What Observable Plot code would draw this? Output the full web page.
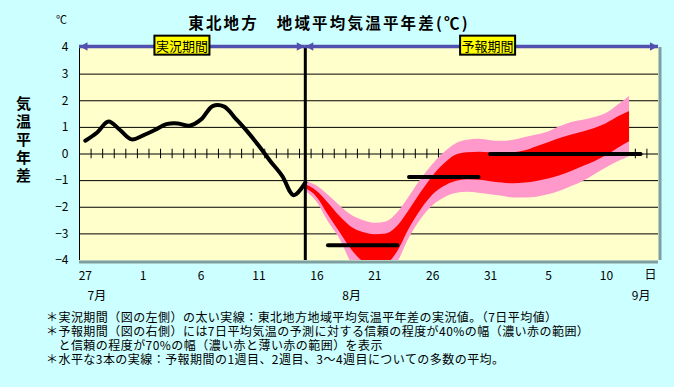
<!DOCTYPE html>
<html>
<head>
<meta charset="utf-8">
<script src="https://cdn.jsdelivr.net/npm/d3@7"></script>
<script src="https://cdn.jsdelivr.net/npm/@observablehq/plot@0.6"></script>
<style>
html, body { margin: 0; padding: 0; background: #CCFFFF; }
#wrap { position: relative; width: 674px; height: 387px; overflow: hidden; font-family: "Noto Sans CJK JP", "Noto Sans", sans-serif; color: #000; }
#chart { position: absolute; left: 0; top: 0; }
#title { position: absolute; left: 0; width: 658px; top: 12px; text-align: center; font-weight: bold; font-size: 15.5px; line-height: 20px; letter-spacing: 2.2px; white-space: nowrap; }
#unit { position: absolute; left: 56px; top: 11px; font-size: 11px; line-height: 16px; }
#ylabel { position: absolute; left: 14px; top: 96px; writing-mode: vertical-rl; text-orientation: upright; font-weight: bold; font-size: 15px; line-height: 18px; letter-spacing: 3px; white-space: nowrap; }
#caption { position: absolute; left: 46px; top: 310px; font-size: 12px; line-height: 14px; letter-spacing: 0.45px; white-space: pre; }
</style>
</head>
<body>
<div id="wrap">
  <div id="chart"></div>
  <div id="unit"></div>
  <div id="title"></div>
  <div id="ylabel"></div>
  <div id="caption"></div>
</div>
<script>
// ---------- data ----------
const titleText = "東北地方　地域平均気温平年差(℃)";
const unitText = "℃";
const yLabelText = "気温平年差";
const captionLines = [
  "＊実況期間（図の左側）の太い実線：東北地方地域平均気温平年差の実況値。（7日平均値）",
  "＊予報期間（図の右側）には7日平均気温の予測に対する信頼の程度が40%の幅（濃い赤の範囲）",
  "　と信頼の程度が70%の幅（濃い赤と薄い赤の範囲）を表示",
  "＊水平な3本の実線：予報期間の1週目、2週目、3～4週目についての多数の平均。"
];

// categories: one per day, 7/27 .. 9/14
const monthSpans = [[7, 27, 31], [8, 1, 31], [9, 1, 14]];
const categories = monthSpans.flatMap(([m, a, b]) => d3.range(a, b + 1).map(d => `${m}/${d}`));

const dayTickCats = ["7/27", "8/1", "8/6", "8/11", "8/16", "8/21", "8/26", "8/31", "9/5", "9/10"];
const dayTickLabels = ["27", "1", "6", "11", "16", "21", "26", "31", "5", "10"];
const dayUnitLabel = "日";
const monthLabelCats = ["7/28", "8/19", "9/13"];
const monthLabels = ["7月", "8月", "9月"];

const yTicks = [-4, -3, -2, -1, 0, 1, 2, 3, 4];
const gridValues = [-3, -2, -1, 0, 1, 2, 3];

// observed 7-day mean anomaly, 7/27 .. 8/15
const observedCats = categories.slice(0, 20);
const observed = [0.5, 0.8, 1.22, 0.9, 0.55, 0.7, 0.9, 1.12, 1.15, 1.06,
                  1.3, 1.8, 1.78, 1.32, 0.84, 0.3, -0.28, -0.82, -1.55, -1.07];

// forecast ranges, 8/15 .. 9/12
const forecastCats = categories.slice(19, 48);
const pinkTop = [-1.03, -1.2, -1.55, -1.95, -2.3, -2.5, -2.6, -2.55, -2.2, -1.6,
                 -0.95, -0.4, 0.05, 0.38, 0.52, 0.55, 0.5, 0.48, 0.52, 0.62,
                 0.71, 0.83, 1.02, 1.18, 1.27, 1.37, 1.52, 1.83, 2.16];
const redTop = [-1.15, -1.4, -1.85, -2.35, -2.75, -2.95, -3.03, -3.0, -2.7, -2.1,
                -1.45, -0.85, -0.38, -0.05, 0.05, 0.07, 0.05, 0.02, 0.05, 0.12,
                0.27, 0.42, 0.58, 0.71, 0.83, 0.96, 1.14, 1.39, 1.6];
const redBottom = [-1.3, -1.62, -2.3, -2.95, -3.6, -4.05, -4.25, -4.15, -3.65, -2.8,
                   -2.1, -1.55, -1.22, -1.03, -0.97, -0.99, -1.04, -1.09, -1.12, -1.09,
                   -1.03, -0.94, -0.82, -0.66, -0.47, -0.29, -0.07, 0.21, 0.46];
const pinkBottom = [-1.4, -1.8, -2.55, -3.2, -4.1, -4.5, -4.6, -4.5, -4.05, -3.15,
                    -2.45, -1.95, -1.65, -1.48, -1.44, -1.47, -1.53, -1.59, -1.65, -1.65,
                    -1.62, -1.53, -1.4, -1.22, -1.03, -0.78, -0.53, -0.29, -0.1];

// weekly means (1st week, 2nd week, weeks 3-4)
const weekStartCats = ["8/17", "8/24", "8/31"];
const weekEndCats = ["8/23", "8/30", "9/13"];
const weekMeans = [-3.43, -0.86, 0.0];

const periodNames = ["実況期間", "予報期間"];
const periodLabelCats = ["8/4", "8/31"];

// ---------- build ----------
const xi = c => categories.indexOf(c) + 0.5;
const xMax = categories.length;
const yMin = yTicks[0], yMax = yTicks[yTicks.length - 1];
const splitX = xi(observedCats[observedCats.length - 1]);

const obsData = observedCats.map((c, i) => ({x: xi(c), y: observed[i]}));
const fcData = forecastCats.map((c, i) => ({x: xi(c), pt: pinkTop[i], rt: redTop[i], rb: redBottom[i], pb: pinkBottom[i]}));
const weekData = weekMeans.map((v, i) => ({x1: xi(weekStartCats[i]), x2: xi(weekEndCats[i]), y: v}));
const arrowShafts = [{x1: 0, x2: splitX, y: yMax}, {x1: splitX, x2: xMax, y: yMax}];
const headsLeft = [{x: 0, y: yMax}, {x: splitX, y: yMax}];
const headsRight = [{x: splitX, y: yMax}, {x: xMax, y: yMax}];
const periodData = periodNames.map((n, i) => ({x: xi(periodLabelCats[i]), y: yMax, text: n}));
const dayTicks = dayTickCats.map((c, i) => ({x: xi(c), text: dayTickLabels[i]}));
const monthData = monthLabelCats.map((c, i) => ({x: xi(c), text: monthLabels[i]}));
const boundaries = d3.range(1, xMax);

const blue = "#5050B0";
const triRight = {draw(ctx) { ctx.moveTo(0, 0); ctx.lineTo(-7.5, -4.3); ctx.lineTo(-7.5, 4.3); ctx.closePath(); }};
const triLeft = {draw(ctx) { ctx.moveTo(0, 0); ctx.lineTo(7.5, -4.3); ctx.lineTo(7.5, 4.3); ctx.closePath(); }};

const chart = Plot.plot({
  width: 674,
  height: 387,
  marginLeft: 79,
  marginRight: 16,
  marginTop: 47,
  marginBottom: 127,
  style: {background: "transparent", fontFamily: "'Noto Sans CJK JP', 'Noto Sans', sans-serif", fontSize: "12px", color: "#000"},
  x: {domain: [0, xMax], axis: null},
  y: {domain: [yMin, yMax], ticks: yTicks, tickSize: 0, tickPadding: 11, label: null},
  marks: [
    Plot.frame({fill: "#FFFFCC", stroke: "none"}),
    Plot.ruleY([yMin], {stroke: "#7F9F9F", strokeWidth: 3, dy: 1.5}),
    Plot.ruleX([xMax], {stroke: "#7F9F9F", strokeWidth: 3, dx: 1.5}),
    Plot.ruleY(gridValues, {stroke: "#000", strokeWidth: 1}),
    Plot.ruleX(boundaries, {y1: -0.18, y2: 0.18, stroke: "#000", strokeWidth: 1}),
    Plot.ruleX([0], {stroke: "#000", strokeWidth: 1}),
    Plot.areaY(fcData, {x: "x", y1: "pb", y2: "pt", fill: "#FF99CC", curve: "monotone-x", clip: true}),
    Plot.areaY(fcData, {x: "x", y1: "rb", y2: "rt", fill: "#FF0000", curve: "monotone-x", clip: true}),
    Plot.line(obsData, {x: "x", y: "y", stroke: "#000", strokeWidth: 4, curve: "catmull-rom", strokeLinejoin: "round"}),
    Plot.ruleX([splitX], {stroke: "#000", strokeWidth: 3}),
    Plot.ruleY(weekData, {x1: "x1", x2: "x2", y: "y", stroke: "#000", strokeWidth: 4, strokeLinecap: "round"}),
    Plot.ruleY(arrowShafts, {x1: "x1", x2: "x2", y: "y", stroke: blue, strokeWidth: 3.5, dy: -1}),
    Plot.dot(headsLeft, {x: "x", y: "y", symbol: triLeft, fill: blue, stroke: "none", dy: -1, dx: 0.5}),
    Plot.dot(headsRight, {x: "x", y: "y", symbol: triRight, fill: blue, stroke: "none", dy: -1, dx: -1}),
    Plot.text(periodData.slice(0, 1), {x: "x", y: "y", text: "text", fontSize: 13, fill: "#000", dy: -1, dx: 4}),
    Plot.text(periodData.slice(1), {x: "x", y: "y", text: "text", fontSize: 13, fill: "#000", dy: -1, dx: -3}),
    Plot.text(dayTicks, {x: "x", text: "text", frameAnchor: "bottom", dy: 19, fontSize: 12}),
    Plot.text([dayUnitLabel], {x: () => xMax, text: d => d, frameAnchor: "bottom", dy: 18, dx: -8, fontSize: 12}),
    Plot.text(monthData, {x: "x", text: "text", frameAnchor: "bottom", dy: 39, fontSize: 12})
  ]
});

document.getElementById("chart").appendChild(chart);
document.getElementById("title").textContent = titleText;
document.getElementById("unit").textContent = unitText;
document.getElementById("ylabel").textContent = yLabelText;
document.getElementById("caption").textContent = captionLines.join("\n");

// yellow boxes behind the period labels
const ns = "http://www.w3.org/2000/svg";
chart.querySelectorAll("text").forEach(t => {
  if (periodNames.includes(t.textContent)) {
    const b = t.getBBox();
    const r = document.createElementNS(ns, "rect");
    r.setAttribute("x", b.x - 1.5);
    r.setAttribute("y", b.y);
    r.setAttribute("width", b.width + 3);
    r.setAttribute("height", b.height);
    r.setAttribute("fill", "#FFFF00");
    r.setAttribute("stroke", "#000");
    r.setAttribute("stroke-width", 2);
    const tr = t.getAttribute("transform");
    if (tr) r.setAttribute("transform", tr);
    t.parentNode.insertBefore(r, t);
  }
});
</script>
</body>
</html>
